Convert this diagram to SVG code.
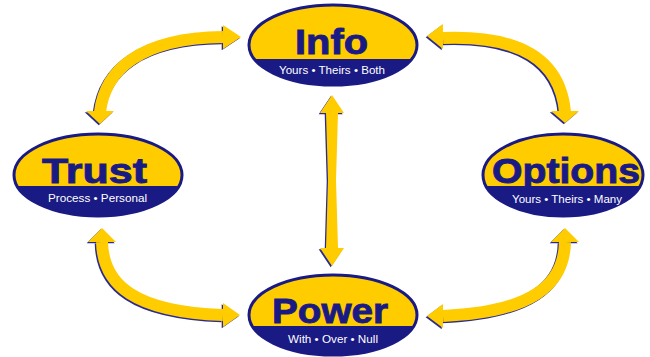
<svg xmlns="http://www.w3.org/2000/svg" xmlns:xlink="http://www.w3.org/1999/xlink" width="650" height="357" viewBox="0 0 650 357">
<style>
.shaft{fill:none;stroke-width:12}
.head{stroke:none}
.bord{fill:none;stroke:#1a1a84;stroke-width:3}
.big{font-family:"Liberation Sans",Arial,sans-serif;font-weight:bold;font-size:35px;fill:#1a1a84;stroke:#1a1a84;stroke-width:0.9}
.sub{font-family:"Liberation Sans",Arial,sans-serif;font-size:11px;fill:#ffffff}
</style>
<defs>
<g id="arrows">
<path class="shaft" d="M100,112 C105,70 140,38 223,37"/>
<polygon class="head" points="100,124 86,111 114,111"/>
<polygon class="head" points="241,37 223,25 223,49"/>
<path class="shaft" d="M443,38 C520,35 560,60 565,112"/>
<polygon class="head" points="427,36 443,24 443,49"/>
<polygon class="head" points="565,123 551,111 579,111"/>
<path class="shaft" d="M102,242 C103,285 135,312 223,315"/>
<polygon class="head" points="102,228 88,242 116,242"/>
<polygon class="head" points="240,315 223,303 223,327"/>
<path class="shaft" d="M565,242 C564,285 532,312 443,316"/>
<polygon class="head" points="565,228 551,242 579,242"/>
<polygon class="head" points="427,316 443,304 443,328"/>
<polygon class="head" points="332,95 344,113 338,113 336,180 338,248 344,248 332,266 320,248 326,248 328,180 326,113 320,113"/>
</g>
<clipPath id="cInfo"><ellipse cx="333" cy="45" rx="84" ry="40"/></clipPath>
<clipPath id="cTrust"><ellipse cx="98" cy="175" rx="84" ry="41"/></clipPath>
<clipPath id="cOpt"><ellipse cx="563" cy="175" rx="80" ry="41"/></clipPath>
<clipPath id="cPow"><ellipse cx="333" cy="315" rx="84" ry="40"/></clipPath>
</defs>
<rect width="650" height="357" fill="#ffffff"/>
<g id="connectors">
<use xlink:href="#arrows" fill="#2a2a90" stroke="#2a2a90" transform="translate(-1.3,1.3)"/>
<use xlink:href="#arrows" fill="#ffcc00" stroke="#ffcc00"/>
</g>
<g id="info">
<g clip-path="url(#cInfo)"><rect x="240" y="0" width="190" height="59" fill="#ffcc00"/><rect x="240" y="59" width="190" height="40" fill="#1a1a84"/></g>
<ellipse class="bord" cx="333" cy="45" rx="84" ry="40"/>
<text class="big" x="295" y="54" textLength="73" lengthAdjust="spacingAndGlyphs">Info</text>
<text class="sub" x="279" y="74" textLength="106" lengthAdjust="spacingAndGlyphs">Yours • Theirs • Both</text>
</g>
<g id="trust">
<g clip-path="url(#cTrust)"><rect x="10" y="130" width="180" height="56" fill="#ffcc00"/><rect x="10" y="186" width="180" height="40" fill="#1a1a84"/></g>
<ellipse class="bord" cx="98" cy="175" rx="84" ry="41"/>
<text class="big" x="42" y="183" textLength="105" lengthAdjust="spacingAndGlyphs">Trust</text>
<text class="sub" x="48" y="202" textLength="99" lengthAdjust="spacingAndGlyphs">Process • Personal</text>
</g>
<g id="options">
<g clip-path="url(#cOpt)"><rect x="480" y="130" width="170" height="56" fill="#ffcc00"/><rect x="480" y="186" width="170" height="40" fill="#1a1a84"/></g>
<ellipse class="bord" cx="563" cy="175" rx="80" ry="41"/>
<text class="big" x="492" y="183" textLength="148" lengthAdjust="spacingAndGlyphs">Options</text>
<text class="sub" x="512" y="203" textLength="110" lengthAdjust="spacingAndGlyphs">Yours • Theirs • Many</text>
</g>
<g id="power">
<g clip-path="url(#cPow)"><rect x="240" y="270" width="190" height="56" fill="#ffcc00"/><rect x="240" y="326" width="190" height="40" fill="#1a1a84"/></g>
<ellipse class="bord" cx="333" cy="315" rx="84" ry="40"/>
<text class="big" x="272" y="323" textLength="116" lengthAdjust="spacingAndGlyphs">Power</text>
<text class="sub" x="288" y="343" textLength="90" lengthAdjust="spacingAndGlyphs">With • Over • Null</text>
</g>
</svg>
